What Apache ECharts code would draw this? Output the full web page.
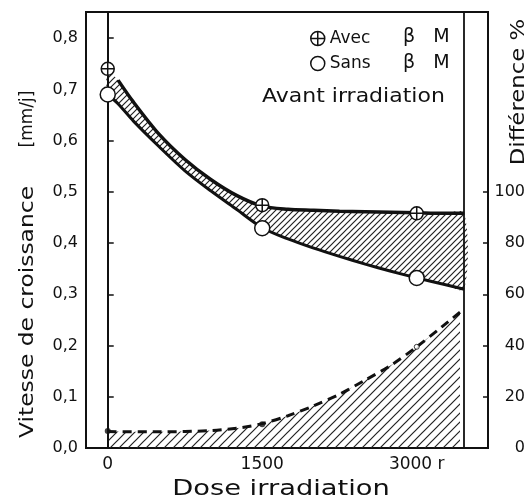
<!DOCTYPE html>
<html>
<head>
<meta charset="utf-8">
<script src="https://cdn.jsdelivr.net/npm/echarts@6/dist/echarts.min.js"></script>
<style>html,body{margin:0;padding:0;background:#fff}#c{width:528px;height:499px}</style>
</head>
<body>
<div id="c"></div>
<script>
// ---- data ----
const doseTicks = [0, 1500, 3000];
const leftTicks = [0, 0.1, 0.2, 0.3, 0.4, 0.5, 0.6, 0.7, 0.8];
const rightTicks = [0, 20, 40, 60, 80, 100];

// measured points
const pointDose = [0, 1500, 3000];
const avecPoints = [0.74, 0.474, 0.458];
const sansPoints = [0.69, 0.429, 0.332];
const diffPoints = [6.6, 9.3, 39.5];

// fitted curves
const curveDose = [0, 100, 250, 500, 750, 1000, 1250, 1500, 1750, 2000, 2250, 2500, 2750, 3000, 3250, 3461];
const avecCurve = [0.735, 0.718, 0.675, 0.612, 0.563, 0.524, 0.493, 0.472, 0.466, 0.464, 0.462, 0.461, 0.460, 0.459, 0.458, 0.458];
const sansCurve = [0.690, 0.672, 0.638, 0.588, 0.541, 0.502, 0.466, 0.430, 0.408, 0.390, 0.374, 0.359, 0.345, 0.332, 0.320, 0.310];

const diffDose = [0, 500, 1000, 1300, 1500, 1750, 2000, 2250, 2500, 2750, 3000, 3250, 3420];
const diffCurve = [6.4, 6.3, 6.8, 8.0, 9.5, 12.6, 16.5, 21.0, 26.5, 32.3, 39.5, 47.5, 53.0];

const boundaryDose = [0, 3461];

// ---- hatch pattern ----
function hatch(size, lw) {
  const c = document.createElement('canvas');
  c.width = size; c.height = size;
  const g = c.getContext('2d');
  g.strokeStyle = '#222'; g.lineWidth = lw; g.lineCap = 'square';
  g.beginPath();
  g.moveTo(0, size); g.lineTo(size, 0);
  g.moveTo(-1, 1); g.lineTo(1, -1);
  g.moveTo(size - 1, size + 1); g.lineTo(size + 1, size - 1);
  g.stroke();
  return c;
}
const bandPattern = { image: hatch(6, 1.2), repeat: 'repeat' };
const lowPattern = { image: hatch(9, 1.2), repeat: 'repeat' };

const FONT = 'DejaVu Sans';
const plusCircle = 'path://M10,0A10,10,0,1,1,-10,0A10,10,0,1,1,10,0ZM-10,0L10,0M0,-10L0,10';
const pair = (xs, ys) => xs.map((x, i) => [x, ys[i]]);

const chart = echarts.init(document.getElementById('c'), null, { renderer: 'canvas' });
chart.setOption({
  animation: false,
  backgroundColor: '#fff',
  textStyle: { fontFamily: FONT, color: '#111' },
  grid: { left: 86, right: 36, top: 12, bottom: 51, show: true, borderColor: '#111', borderWidth: 2, backgroundColor: 'transparent' },
  legend: {
    left: 305, top: 25, orient: 'vertical', itemWidth: 14, itemHeight: 14, itemGap: 8,
    textStyle: { fontFamily: FONT, fontSize: 17, color: '#111' },
    data: [
      { name: 'Avec', icon: plusCircle, itemStyle: { color: '#fff', borderColor: '#111', borderWidth: 1.5 } },
      { name: 'Sans', icon: 'circle', itemStyle: { color: '#fff', borderColor: '#111', borderWidth: 1.5 } }
    ]
  },
  xAxis: {
    type: 'value', min: -211, max: 3692,
    splitLine: { show: false },
    axisLine: { show: true, lineStyle: { color: '#111', width: 2 } },
    axisTick: { show: false },
    axisLabel: {
      customValues: doseTicks, margin: 8, fontSize: 17, color: '#111', fontFamily: FONT,
      formatter: v => v === 3000 ? '3000 r' : String(v)
    }
  },
  yAxis: [
    {
      type: 'value', min: 0, max: 0.851, position: 'left',
      splitLine: { show: false },
      axisLine: { show: true, lineStyle: { color: '#111', width: 2 } },
      axisTick: { show: true, inside: true, length: 6, customValues: leftTicks, lineStyle: { color: '#111', width: 1.5 } },
      axisLabel: {
        customValues: leftTicks, margin: 8, fontSize: 16, color: '#111', fontFamily: FONT,
        formatter: v => v.toFixed(1).replace('.', ',')
      }
    },
    {
      type: 'value', min: 0, max: 170.2, position: 'right',
      splitLine: { show: false },
      axisLine: { show: true, lineStyle: { color: '#111', width: 2 } },
      axisTick: { show: true, inside: true, length: 5, customValues: rightTicks, lineStyle: { color: '#111', width: 1.5 } },
      axisLabel: {
        customValues: rightTicks, margin: 37, align: 'right', fontSize: 16, color: '#111', fontFamily: FONT,
        formatter: v => String(v)
      }
    }
  ],
  graphic: [
    { type: 'text', left: 403, top: 28, style: { text: 'β   M', font: '19px "DejaVu Sans"', fill: '#111' } },
    { type: 'text', left: 403, top: 54, style: { text: 'β   M', font: '19px "DejaVu Sans"', fill: '#111' } },
    { type: 'text', x: 262, y: 97, scaleX: 1.1, style: { text: 'Avant irradiation', font: '20px "DejaVu Sans"', fill: '#111', align: 'left', verticalAlign: 'middle' } },
    { type: 'text', x: 28, y: 312, rotation: Math.PI / 2, scaleX: 1.17, style: { text: 'Vitesse de croissance', font: '20px "DejaVu Sans"', fill: '#111', align: 'center', verticalAlign: 'middle' } },
    { type: 'text', x: 28, y: 119, rotation: Math.PI / 2, style: { text: '[mm/j]', font: '17px "DejaVu Sans"', fill: '#111', align: 'center', verticalAlign: 'middle' } },
    { type: 'text', x: 519, y: 92, rotation: Math.PI / 2, scaleX: 1.14, style: { text: 'Différence %', font: '20px "DejaVu Sans"', fill: '#111', align: 'center', verticalAlign: 'middle' } },
    { type: 'text', x: 281, y: 490, scaleX: 1.3, style: { text: 'Dose irradiation', font: '21px "DejaVu Sans"', fill: '#111', align: 'center', verticalAlign: 'middle' } }
  ],
  series: [
    {
      name: 'band', type: 'custom', silent: true, z: 1,
      data: [[0, 0]],
      renderItem: (params, api) => {
        const upper = curveDose.map((d, i) => api.coord([d, avecCurve[i]]));
        const lower = curveDose.map((d, i) => api.coord([d, sansCurve[i]])).reverse();
        return { type: 'polygon', shape: { points: upper.concat(lower), smooth: 0.3 }, style: { fill: bandPattern, stroke: null } };
      }
    },
    {
      name: 'diff', type: 'line', yAxisIndex: 1, smooth: 0.3, showSymbol: false, silent: true,
      lineStyle: { color: '#111', width: 3, type: [9, 6] },
      areaStyle: { color: lowPattern, opacity: 1 },
      data: pair(diffDose, diffCurve), z: 2
    },
    {
      name: 'avecCurve', type: 'line', smooth: 0.3, showSymbol: false, silent: true,
      lineStyle: { color: '#111', width: 3.5 }, data: pair(curveDose.slice(1), avecCurve.slice(1)), z: 3
    },
    {
      name: 'sansCurve', type: 'line', smooth: 0.3, showSymbol: false, silent: true,
      lineStyle: { color: '#111', width: 3 }, data: pair(curveDose, sansCurve), z: 3,
      markLine: {
        silent: true, symbol: 'none', label: { show: false },
        lineStyle: { color: '#111', width: 1.8, type: 'solid' },
        data: boundaryDose.map(d => ({ xAxis: d }))
      }
    },
    {
      name: 'diffPts', type: 'scatter', yAxisIndex: 1, symbol: 'circle', z: 5,
      data: pointDose.map((d, i) => ({
        value: [d, diffPoints[i]],
        symbolSize: i < 2 ? 6 : 5,
        itemStyle: i < 2 ? { color: '#111' } : { color: '#fff', borderColor: '#111', borderWidth: 1 }
      }))
    },
    {
      name: 'Avec', type: 'scatter', symbol: plusCircle, symbolSize: 13, z: 6,
      itemStyle: { color: '#fff', borderColor: '#111', borderWidth: 1.5, opacity: 1 },
      data: pair(pointDose, avecPoints)
    },
    {
      name: 'Sans', type: 'scatter', symbol: 'circle', symbolSize: 15, z: 6,
      itemStyle: { color: '#fff', borderColor: '#111', borderWidth: 1.5, opacity: 1 },
      data: pair(pointDose, sansPoints)
    }
  ]
});
</script>
</body>
</html>
